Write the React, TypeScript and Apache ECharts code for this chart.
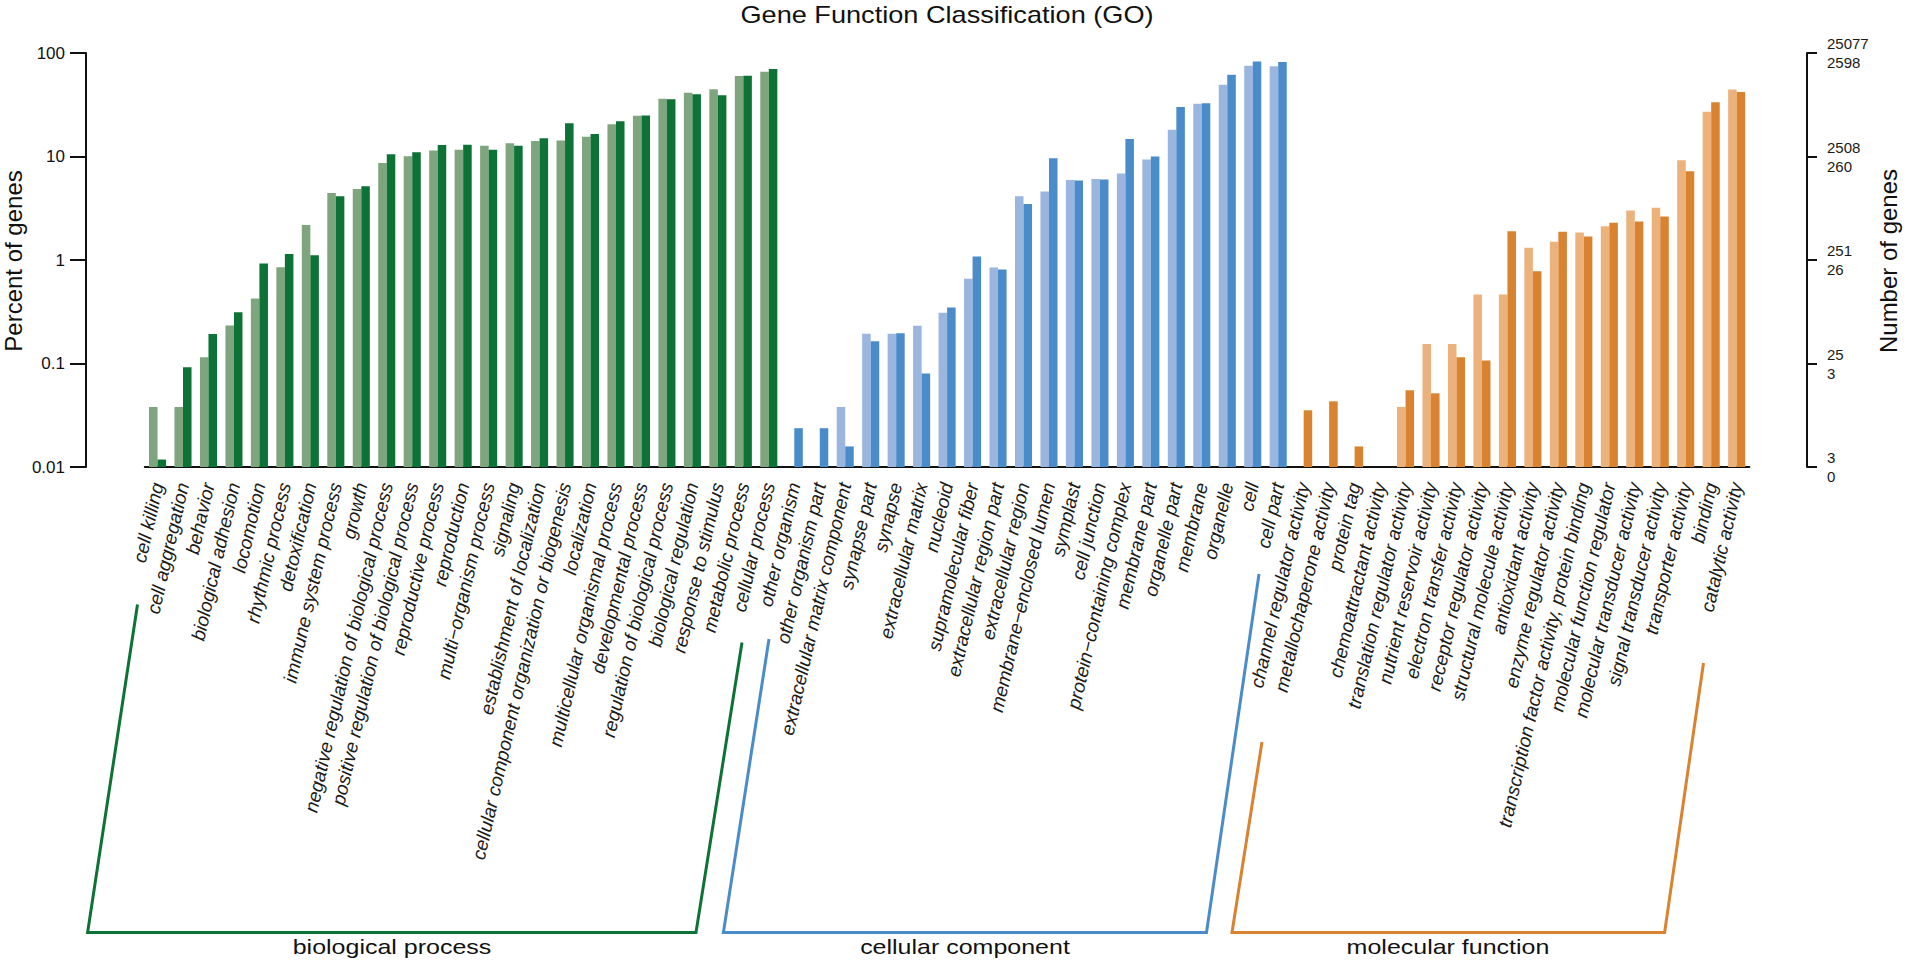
import React, { useEffect, useRef } from "react";
import * as echarts from "echarts";

const bpNames = [
  "cell killing", "cell aggregation", "behavior", "biological adhesion", "locomotion",
  "rhythmic process", "detoxification", "immune system process", "growth",
  "negative regulation of biological process", "positive regulation of biological process",
  "reproductive process", "reproduction", "multi\u2212organism process", "signaling",
  "establishment of localization", "cellular component organization or biogenesis",
  "localization", "multicellular organismal process", "developmental process",
  "regulation of biological process", "biological regulation", "response to stimulus",
  "metabolic process", "cellular process",
];
const bpLight = [0.038, 0.038, 0.115, 0.233, 0.425, 0.851, 2.18, 4.45, 4.86, 8.67, 10.05, 11.4, 11.6, 12.7, 13.4, 14.1, 14.3, 15.5, 20.5, 24.8, 36.2, 41.4, 44.6, 60.0, 66.0];
const bpDark = [0.0118, 0.092, 0.193, 0.312, 0.925, 1.14, 1.11, 4.13, 5.16, 10.5, 11.0, 12.9, 13.0, 11.6, 12.7, 15.0, 20.9, 16.5, 21.9, 24.9, 35.7, 39.9, 39.0, 60.4, 70.1];

const ccNames = [
  "other organism", "other organism part", "extracellular matrix component", "synapse part",
  "synapse", "extracellular matrix", "nucleoid", "supramolecular fiber",
  "extracellular region part", "extracellular region", "membrane\u2212enclosed lumen", "symplast",
  "cell junction", "protein\u2212containing complex", "membrane part", "organelle part",
  "membrane", "organelle", "cell", "cell part",
];
const ccLight = [null, null, 0.038, 0.194, 0.194, 0.231, 0.309, 0.658, 0.846, 4.13, 4.58, 5.94, 6.07, 6.84, 9.33, 18.1, 32.4, 49.4, 75.5, 74.3];
const ccDark = [0.0237, 0.0237, 0.0158, 0.164, 0.196, 0.0801, 0.348, 1.08, 0.809, 3.48, 9.61, 5.85, 5.98, 14.8, 9.98, 30.1, 32.7, 61.8, 83.0, 82.0];

const mfNames = [
  "channel regulator activity", "metallochaperone activity", "protein tag",
  "chemoattractant activity", "translation regulator activity", "nutrient reservoir activity",
  "electron transfer activity", "receptor regulator activity", "structural molecule activity",
  "antioxidant activity", "enzyme regulator activity",
  "transcription factor activity, protein binding", "molecular function regulator",
  "molecular transducer activity", "signal transducer activity", "transporter activity",
  "binding", "catalytic activity",
];
const mfLight = [null, null, null, null, 0.038, 0.154, 0.154, 0.464, 0.464, 1.31, 1.5, 1.84, 2.12, 3.0, 3.19, 9.2, 27.1, 44.3];
const mfDark = [0.0353, 0.0431, 0.0158, null, 0.0551, 0.0515, 0.115, 0.107, 1.9, 0.78, 1.87, 1.69, 2.29, 2.35, 2.63, 7.2, 33.4, 42.0];

const leftTickLabels = ["0.01", "0.1", "1", "10", "100"];
const rightTickTop = ["3", "25", "251", "2508", "25077"];
const rightTickBottom = ["0", "3", "26", "260", "2598"];

const groupLabels = ["biological process", "cellular component", "molecular function"];
const lightColors = ["#7fa57f", "#9ab6de", "#ecb27c"];
const darkColors = ["#0d7236", "#4a8bca", "#d9822f"];

const FONT = '"Liberation Sans", Arial, Helvetica, sans-serif';

function toLog(v: number | null) {
  return v == null ? "-" : Math.log10(v) + 2;
}

export default function App() {
  const ref = useRef<HTMLDivElement>(null);

  useEffect(() => {
    if (!ref.current) return;
    const chart = echarts.init(ref.current, undefined, { renderer: "svg" });

    const groups = [
      { names: bpNames, light: bpLight, dark: bpDark },
      { names: ccNames, light: ccLight, dark: ccDark },
      { names: mfNames, light: mfLight, dark: mfDark },
    ];
    const categories: string[] = [];
    const lightData: any[] = [];
    const darkData: any[] = [];
    groups.forEach((g, gi) => {
      g.names.forEach((n, i) => {
        categories.push(n);
        lightData.push({ value: toLog(g.light[i] as any), itemStyle: { color: lightColors[gi] } });
        darkData.push({ value: toLog(g.dark[i] as any), itemStyle: { color: darkColors[gi] } });
      });
    });

    const bracketStyle = (c: string) => ({ stroke: c, lineWidth: 3, fill: "none" });

    chart.setOption({
      animation: false,
      backgroundColor: "#ffffff",
      grid: { left: 144.8, right: 158.6, top: 53, bottom: 497, containLabel: false },
      xAxis: {
        type: "category",
        data: categories,
        axisLine: { lineStyle: { color: "#111", width: 2 } },
        axisTick: { alignWithLabel: true, length: 5, lineStyle: { color: "#111", width: 2 } },
        axisLabel: {
          interval: 0,
          rotate: 77,
          margin: 16,
          fontSize: 19,
          fontStyle: "italic",
          fontFamily: FONT,
          color: "#1a1a1a",
        },
      },
      yAxis: [
        {
          type: "value",
          position: "left",
          min: 0,
          max: 4,
          interval: 1,
          offset: 58.8,
          splitLine: { show: false },
          axisLine: { show: true, lineStyle: { color: "#111", width: 2 } },
          axisTick: { show: true, length: 16, lineStyle: { color: "#111", width: 2 } },
          axisLabel: {
            margin: 21,
            fontSize: 17,
            fontFamily: FONT,
            color: "#111",
            formatter: (v: number) => leftTickLabels[Math.round(v)],
          },
        },
        {
          type: "value",
          position: "right",
          min: 0,
          max: 4,
          interval: 1,
          offset: 57.6,
          splitLine: { show: false },
          axisLine: { show: true, lineStyle: { color: "#111", width: 2 } },
          axisTick: { show: true, length: 10, lineStyle: { color: "#111", width: 2 } },
          axisLabel: {
            margin: 20,
            fontSize: 15,
            lineHeight: 19,
            padding: [4, 0, 0, 0],
            fontFamily: FONT,
            color: "#1a1a1a",
            formatter: (v: number) => rightTickTop[Math.round(v)] + "\n" + rightTickBottom[Math.round(v)],
          },
        },
      ],
      series: [
        { type: "bar", name: "light", data: lightData, barGap: "0%", barCategoryGap: "33%", yAxisIndex: 0 },
        { type: "bar", name: "dark", data: darkData, barGap: "0%", barCategoryGap: "33%", yAxisIndex: 0 },
      ],
      graphic: [
        {
          type: "text", x: 947, y: 15, scaleX: 1.18,
          style: { text: "Gene Function Classification (GO)", font: `23px ${FONT}`, fill: "#111", align: "center", verticalAlign: "middle", textAlign: "center", textVerticalAlign: "middle" },
        },
        {
          type: "text", x: 13, y: 261, rotation: Math.PI / 2,
          style: { text: "Percent of genes", font: `24px ${FONT}`, fill: "#111", align: "center", verticalAlign: "middle", textAlign: "center", textVerticalAlign: "middle" },
        },
        {
          type: "text", x: 1888, y: 261, rotation: Math.PI / 2,
          style: { text: "Number of genes", font: `24px ${FONT}`, fill: "#111", align: "center", verticalAlign: "middle", textAlign: "center", textVerticalAlign: "middle" },
        },
        { type: "polyline", shape: { points: [[137.5, 604.5], [87.6, 932.5], [696, 932.5], [742, 642.5]] }, style: bracketStyle(darkColors[0]) },
        { type: "polyline", shape: { points: [[769, 639], [723.4, 932.5], [1206.5, 932.5], [1259, 574]] }, style: bracketStyle(darkColors[1]) },
        { type: "polyline", shape: { points: [[1262, 742], [1232, 932.5], [1664.6, 932.5], [1703.5, 663]] }, style: bracketStyle(darkColors[2]) },
        {
          type: "text", x: 392, y: 947, scaleX: 1.19,
          style: { text: groupLabels[0], font: `21px ${FONT}`, fill: "#111", align: "center", verticalAlign: "middle", textAlign: "center", textVerticalAlign: "middle" },
        },
        {
          type: "text", x: 965, y: 947, scaleX: 1.19,
          style: { text: groupLabels[1], font: `21px ${FONT}`, fill: "#111", align: "center", verticalAlign: "middle", textAlign: "center", textVerticalAlign: "middle" },
        },
        {
          type: "text", x: 1448, y: 947, scaleX: 1.19,
          style: { text: groupLabels[2], font: `21px ${FONT}`, fill: "#111", align: "center", verticalAlign: "middle", textAlign: "center", textVerticalAlign: "middle" },
        },
      ],
    });

    return () => chart.dispose();
  }, []);

  return (
    <div
      ref={ref}
      style={{ position: "absolute", left: 0, top: 0, width: 1908, height: 964, background: "#fff" }}
    />
  );
}
